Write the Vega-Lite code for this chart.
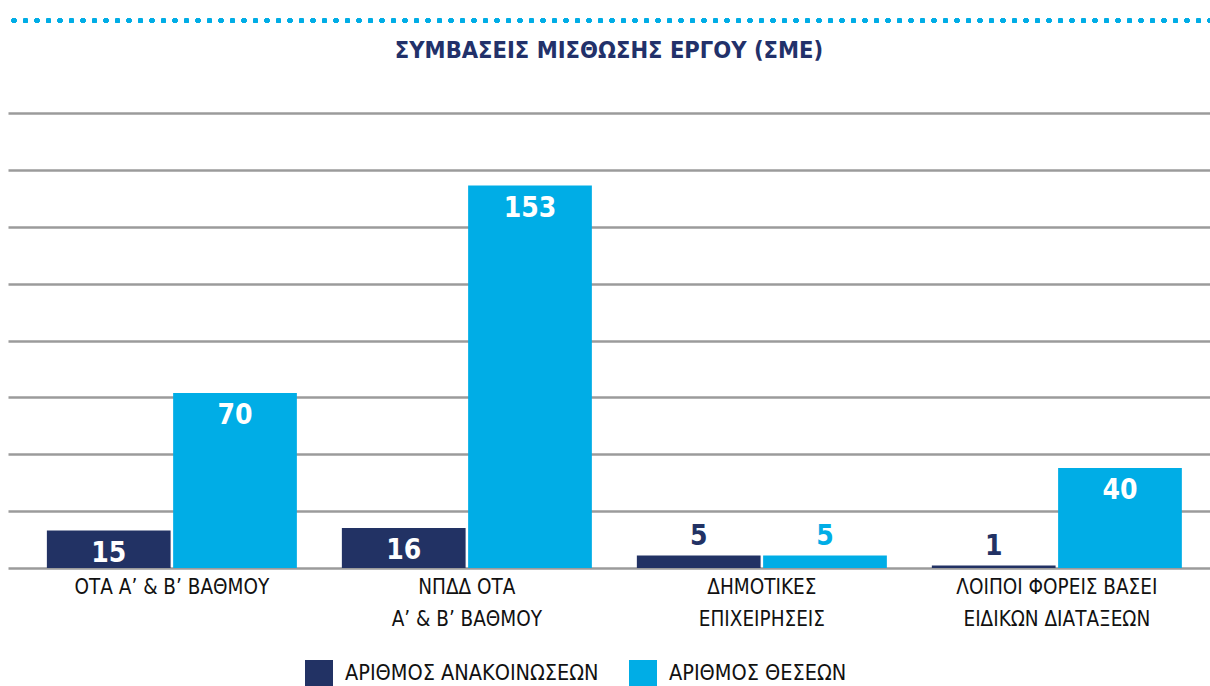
{
  "$schema": "https://vega.github.io/schema/vega-lite/v6.json",
  "autosize": {"type": "none"},
  "width": 1202,
  "height": 455,
  "padding": {"left": 8, "top": 113, "right": 0, "bottom": 118},
  "background": "white",
  "title": {
    "text": "ΣΥΜΒΑΣΕΙΣ ΜΙΣΘΩΣΗΣ ΕΡΓΟΥ (ΣΜΕ)",
    "anchor": "middle",
    "fontSize": 23.5,
    "fontWeight": "bold",
    "font": "DejaVu Sans Condensed",
    "color": "#22316a",
    "offset": -44
  },
  "data": {
    "values": [
      {"category": "ΟΤΑ Α’ & Β’ ΒΑΘΜΟΥ", "series": "ΑΡΙΘΜΟΣ ΑΝΑΚΟΙΝΩΣΕΩΝ", "value": 15},
      {"category": "ΟΤΑ Α’ & Β’ ΒΑΘΜΟΥ", "series": "ΑΡΙΘΜΟΣ ΘΕΣΕΩΝ", "value": 70},
      {"category": "ΝΠΔΔ ΟΤΑ Α’ & Β’ ΒΑΘΜΟΥ", "series": "ΑΡΙΘΜΟΣ ΑΝΑΚΟΙΝΩΣΕΩΝ", "value": 16},
      {"category": "ΝΠΔΔ ΟΤΑ Α’ & Β’ ΒΑΘΜΟΥ", "series": "ΑΡΙΘΜΟΣ ΘΕΣΕΩΝ", "value": 153},
      {"category": "ΔΗΜΟΤΙΚΕΣ ΕΠΙΧΕΙΡΗΣΕΙΣ", "series": "ΑΡΙΘΜΟΣ ΑΝΑΚΟΙΝΩΣΕΩΝ", "value": 5},
      {"category": "ΔΗΜΟΤΙΚΕΣ ΕΠΙΧΕΙΡΗΣΕΙΣ", "series": "ΑΡΙΘΜΟΣ ΘΕΣΕΩΝ", "value": 5},
      {"category": "ΛΟΙΠΟΙ ΦΟΡΕΙΣ ΒΑΣΕΙ ΕΙΔΙΚΩΝ ΔΙΑΤΑΞΕΩΝ", "series": "ΑΡΙΘΜΟΣ ΑΝΑΚΟΙΝΩΣΕΩΝ", "value": 1},
      {"category": "ΛΟΙΠΟΙ ΦΟΡΕΙΣ ΒΑΣΕΙ ΕΙΔΙΚΩΝ ΔΙΑΤΑΞΕΩΝ", "series": "ΑΡΙΘΜΟΣ ΘΕΣΕΩΝ", "value": 40}
    ]
  },
  "layer": [
    {
      "mark": {"type": "bar"},
      "encoding": {
        "x": {
          "field": "category",
          "type": "nominal",
          "sort": null,
          "scale": {"paddingInner": 0.1525, "paddingOuter": 0.1136, "align": 0.58},
          "axis": {
            "title": null,
            "domain": false,
            "ticks": false,
            "labelAngle": 0,
            "labelFont": "DejaVu Sans Condensed",
            "labelFontSize": 20.5,
            "labelColor": "#111111",
            "labelPadding": 9,
            "labelLineHeight": 32,
            "labelLimit": 0,
            "labelBaseline": "top",
            "labelExpr": "datum.value == 'ΝΠΔΔ ΟΤΑ Α’ & Β’ ΒΑΘΜΟΥ' ? ['ΝΠΔΔ ΟΤΑ', 'Α’ & Β’ ΒΑΘΜΟΥ'] : datum.value == 'ΔΗΜΟΤΙΚΕΣ ΕΠΙΧΕΙΡΗΣΕΙΣ' ? ['ΔΗΜΟΤΙΚΕΣ', 'ΕΠΙΧΕΙΡΗΣΕΙΣ'] : datum.value == 'ΛΟΙΠΟΙ ΦΟΡΕΙΣ ΒΑΣΕΙ ΕΙΔΙΚΩΝ ΔΙΑΤΑΞΕΩΝ' ? ['ΛΟΙΠΟΙ ΦΟΡΕΙΣ ΒΑΣΕΙ', 'ΕΙΔΙΚΩΝ ΔΙΑΤΑΞΕΩΝ'] : datum.value"
          }
        },
        "xOffset": {
          "field": "series",
          "type": "nominal",
          "sort": ["ΑΡΙΘΜΟΣ ΑΝΑΚΟΙΝΩΣΕΩΝ", "ΑΡΙΘΜΟΣ ΘΕΣΕΩΝ"],
          "scale": {"paddingInner": 0.02}
        },
        "y": {
          "field": "value",
          "type": "quantitative",
          "scale": {"domain": [0, 182], "nice": false},
          "axis": {
            "title": null,
            "labels": false,
            "ticks": false,
            "domain": false,
            "values": [0, 22.75, 45.5, 68.25, 91, 113.75, 136.5, 159.25, 182],
            "grid": true,
            "gridColor": "#9b9b9b",
            "gridWidth": 2.5,
            "zindex": 0
          }
        },
        "color": {
          "field": "series",
          "type": "nominal",
          "sort": ["ΑΡΙΘΜΟΣ ΑΝΑΚΟΙΝΩΣΕΩΝ", "ΑΡΙΘΜΟΣ ΘΕΣΕΩΝ"],
          "scale": {"domain": ["ΑΡΙΘΜΟΣ ΑΝΑΚΟΙΝΩΣΕΩΝ", "ΑΡΙΘΜΟΣ ΘΕΣΕΩΝ"], "range": ["#223264", "#00ade6"]},
          "legend": {
            "title": null,
            "orient": "none",
            "legendX": 297,
            "legendY": 547,
            "direction": "horizontal",
            "symbolType": "square",
            "symbolSize": 784,
            "symbolStrokeWidth": 0,
            "symbolOpacity": 1,
            "labelFont": "DejaVu Sans Condensed",
            "labelFontSize": 21.5,
            "labelLimit": 0,
            "labelColor": "#111111",
            "labelOffset": 12,
            "columnPadding": 30
          }
        }
      }
    },
    {
      "transform": [{"filter": "datum.value >= 10"}],
      "mark": {"type": "text", "baseline": "middle", "dy": 23, "fontSize": 28, "fontWeight": "bold", "font": "DejaVu Sans Condensed", "color": "white"},
      "encoding": {
        "x": {"field": "category", "type": "nominal", "sort": null},
        "xOffset": {"field": "series", "type": "nominal", "sort": ["ΑΡΙΘΜΟΣ ΑΝΑΚΟΙΝΩΣΕΩΝ", "ΑΡΙΘΜΟΣ ΘΕΣΕΩΝ"]},
        "y": {"field": "value", "type": "quantitative"},
        "text": {"field": "value", "type": "quantitative"}
      }
    },
    {
      "transform": [{"filter": "datum.value < 10"}],
      "mark": {"type": "text", "baseline": "middle", "dy": -19, "fontSize": 28, "fontWeight": "bold", "font": "DejaVu Sans Condensed"},
      "encoding": {
        "x": {"field": "category", "type": "nominal", "sort": null},
        "xOffset": {"field": "series", "type": "nominal", "sort": ["ΑΡΙΘΜΟΣ ΑΝΑΚΟΙΝΩΣΕΩΝ", "ΑΡΙΘΜΟΣ ΘΕΣΕΩΝ"]},
        "y": {"field": "value", "type": "quantitative"},
        "text": {"field": "value", "type": "quantitative"},
        "color": {"field": "series", "type": "nominal", "legend": null}
      }
    },
    {
      "mark": {"type": "rule", "color": "#00ade6", "strokeWidth": 5, "strokeCap": "round", "strokeDash": [0, 11.5], "clip": false},
      "encoding": {"y": {"datum": 219}}
    }
  ],
  "config": {
    "view": {"stroke": null}
  }
}
